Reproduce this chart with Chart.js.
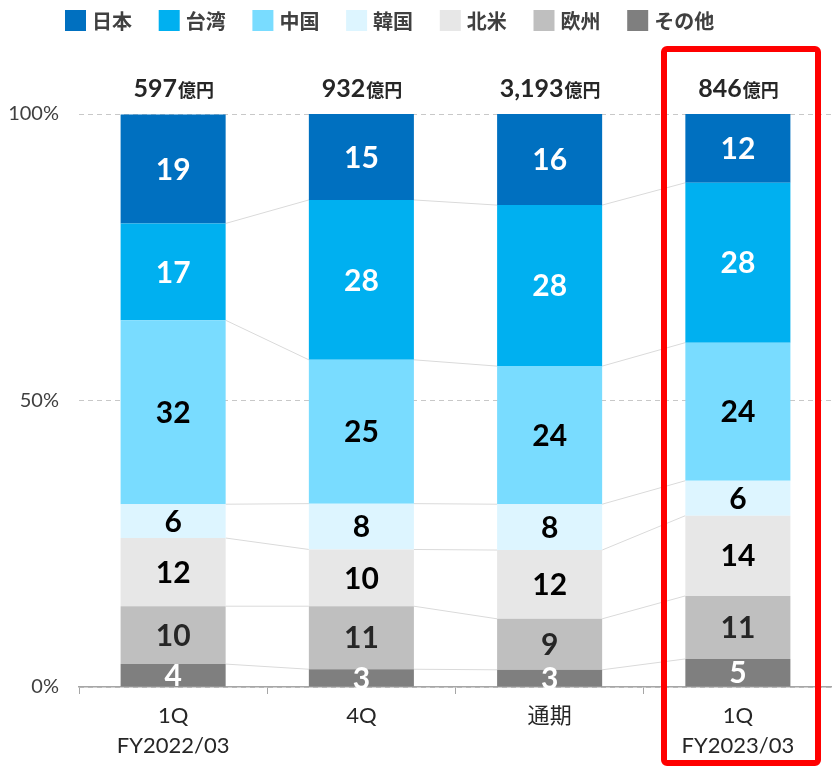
<!DOCTYPE html>
<html>
<head>
<meta charset="utf-8">
<script src="https://cdn.jsdelivr.net/npm/chart.js@4.4.1/dist/chart.umd.min.js"></script>
<style>
  body { margin: 0; background: #fff; }
</style>
</head>
<body>
<canvas id="regionChart" width="832" height="770"></canvas>
<script>
// shares in %, bottom of stack first in datasets below
const categories = [["1Q", "FY2022/03"], "4Q", "通期", ["1Q", "FY2023/03"]];
const totals = [597, 932, 3193, 846];
const japan = [19.0, 15.0, 15.9, 12.0];
const taiwan = [16.9, 27.9, 28.1, 27.9];
const china = [32.1, 25.1, 24.1, 24.1];
const korea = [5.9, 8.0, 8.0, 6.1];
const northAmerica = [11.9, 9.9, 12.0, 14.0];
const europe = [10.1, 11.0, 8.9, 11.0];
const others = [4.0, 3.1, 3.0, 4.9];
const yTicks = [0, 50, 100];

const NUM_FONT = "Lato, 'Noto Sans CJK JP', sans-serif";
const JP_FONT = "'Noto Sans CJK JP', sans-serif";

// legend order = top of stack first
const series = [
  { label: "日本", data: japan, color: "#0070C0", text: "#ffffff" },
  { label: "台湾", data: taiwan, color: "#00B0F0", text: "#ffffff" },
  { label: "中国", data: china, color: "#79DCFF", text: "#000000" },
  { label: "韓国", data: korea, color: "#DDF5FF", text: "#000000" },
  { label: "北米", data: northAmerica, color: "#E7E7E7", text: "#000000" },
  { label: "欧州", data: europe, color: "#BFBFBF", text: "#262626" },
  { label: "その他", data: others, color: "#7F7F7F", text: "#ffffff" },
];

const datasets = series.slice().reverse().map(function (s) {
  return {
    label: s.label,
    data: s.data,
    backgroundColor: s.color,
    borderWidth: 0,
    textColor: s.text,
  };
});

// thin grey lines joining segment boundaries of neighbouring bars
const connectorPlugin = {
  id: "connectors",
  beforeDatasetsDraw(chart) {
    const ctx = chart.ctx;
    ctx.save();
    ctx.strokeStyle = "#dadada";
    ctx.lineWidth = 1;
    for (let d = 0; d < chart.data.datasets.length - 1; d++) {
      const bars = chart.getDatasetMeta(d).data;
      for (let i = 0; i < bars.length - 1; i++) {
        const a = bars[i], b = bars[i + 1];
        ctx.beginPath();
        ctx.moveTo(a.x + a.width / 2, a.y);
        ctx.lineTo(b.x - b.width / 2, b.y);
        ctx.stroke();
      }
    }
    ctx.restore();
  },
};

const labelPlugin = {
  id: "labels",
  afterDatasetsDraw(chart) {
    const ctx = chart.ctx;
    ctx.save();
    ctx.textAlign = "center";
    ctx.textBaseline = "middle";
    ctx.font = "bold 30px " + NUM_FONT;
    chart.data.datasets.forEach(function (ds, d) {
      chart.getDatasetMeta(d).data.forEach(function (bar, i) {
        ctx.fillStyle = ds.textColor;
        ctx.fillText(String(Math.round(ds.data[i])), bar.x, (bar.y + bar.base) / 2 + 1);
      });
    });

    // totals above bars
    const top = chart.getDatasetMeta(chart.data.datasets.length - 1).data;
    top.forEach(function (bar, i) {
      const num = totals[i].toLocaleString("en-US");
      ctx.font = "bold 25px " + NUM_FONT;
      const w1 = ctx.measureText(num).width;
      ctx.font = "bold 18px " + JP_FONT;
      const w2 = ctx.measureText("億円").width;
      const x0 = bar.x - (w1 + w2) / 2;
      ctx.textAlign = "left";
      ctx.textBaseline = "alphabetic";
      ctx.fillStyle = "#262626";
      ctx.font = "bold 25px " + NUM_FONT;
      ctx.fillText(num, x0, 97);
      ctx.font = "bold 18px " + JP_FONT;
      ctx.fillText("億円", x0 + w1 + 1, 97);
    });
    ctx.restore();
  },
};

const legendPlugin = {
  id: "customLegend",
  afterDraw(chart) {
    const ctx = chart.ctx;
    ctx.save();
    ctx.textBaseline = "middle";
    ctx.textAlign = "left";
    ctx.font = "bold 20px " + JP_FONT;
    series.forEach(function (s, i) {
      const x = 65 + i * 93.7;
      ctx.fillStyle = s.color;
      ctx.fillRect(x, 10, 21, 21);
      ctx.fillStyle = "#404040";
      ctx.fillText(s.label, x + 27, 21);
    });

    // red highlight around the latest quarter
    ctx.strokeStyle = "#ff0000";
    ctx.lineWidth = 6;
    ctx.beginPath();
    ctx.roundRect(664, 49, 154, 714, 3);
    ctx.stroke();
    ctx.restore();
  },
};

new Chart(document.getElementById("regionChart"), {
  type: "bar",
  data: { labels: categories, datasets: datasets },
  plugins: [connectorPlugin, labelPlugin, legendPlugin],
  options: {
    responsive: false,
    animation: false,
    layout: { padding: { top: 114, right: 0, bottom: 0, left: 0 } },
    datasets: {
      bar: { categoryPercentage: 0.558, barPercentage: 1 },
    },
    scales: {
      x: {
        stacked: true,
        afterFit: function (s) { s.height = 83; },
        grid: {
          offset: true,
          drawOnChartArea: false,
          drawTicks: true,
          tickLength: 7,
          tickColor: "#a6a6a6",
        },
        border: { display: true, color: "#a6a6a6", width: 1.5 },
        ticks: {
          color: "#262626",
          padding: 7,
          font: { family: NUM_FONT, size: 22, lineHeight: 1.36 },
        },
      },
      y: {
        stacked: true,
        min: 0,
        max: 100,
        afterFit: function (s) { s.width = 79; },
        afterBuildTicks: function (s) {
          s.ticks = yTicks.map(function (v) { return { value: v }; });
        },
        grid: { color: "#c8c8c8", lineWidth: 1, drawTicks: false },
        border: { display: false, dash: [5, 4] },
        ticks: {
          color: "#404040",
          padding: 20,
          font: { family: NUM_FONT, size: 20 },
          callback: function (v) { return v + "%"; },
        },
      },
    },
    plugins: {
      legend: { display: false },
      tooltip: { enabled: false },
    },
  },
});
</script>
</body>
</html>
